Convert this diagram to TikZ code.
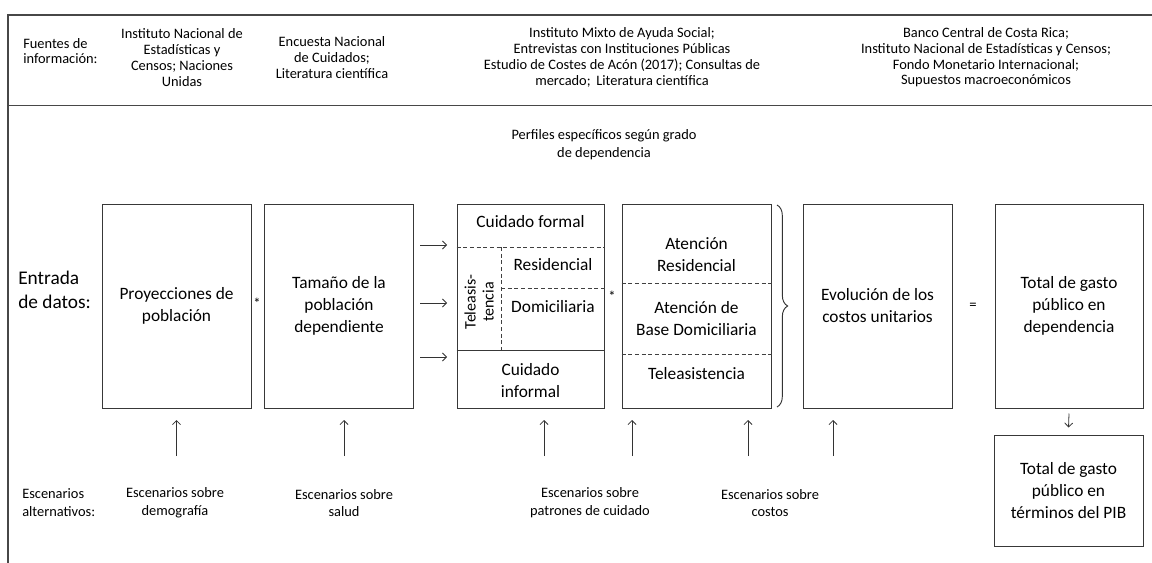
\documentclass[tikz,border=0pt]{standalone}
\usepackage{fontspec}
\setmainfont{Carlito}
\usetikzlibrary{arrows.meta,decorations.pathreplacing}

\begin{document}
\begin{tikzpicture}[x=0.75pt,y=-0.75pt,
  frameline/.style={draw=black!72, line width=1.1pt},
  box/.style={draw=black!78, line width=0.75pt, minimum width=111.75pt,
    minimum height=153pt, inner sep=0pt, align=center,
    font=\fontsize{13}{16.5}\selectfont},
  boxtext/.style={align=center, inner sep=0pt, font=\fontsize{13}{16.5}\selectfont},
  subtext/.style={align=center, inner sep=0pt, font=\fontsize{11}{13.4}\selectfont},
  hdr/.style={align=center, inner sep=0pt, font=\fontsize{10.8}{11.8}\selectfont},
  note/.style={align=center, inner sep=0pt, font=\fontsize{10.8}{13.4}\selectfont},
  sepline/.style={draw=black!75, line width=0.6pt, dash pattern=on 3pt off 2pt},
  solidsep/.style={draw=black!78, line width=0.75pt},
  arr/.style={draw=black!80, line width=0.6pt, -{Straight Barb[length=3pt,width=6pt]}},
  opsign/.style={inner sep=0pt, font=\fontsize{11}{13}\selectfont}
]
\useasboundingbox (0,0) rectangle (1152,563);

% frame of the table
\draw[frameline] (1152,15) -- (8,15) -- (8,563);
\draw[frameline] (8,105.5) -- (1152,105.5);

% sources row
\node[hdr, align=left, anchor=west] (fuentes) at (23,51) {Fuentes de\\información:};
\node[hdr] (f1) at (182,57.5) {Instituto Nacional de\\Estadísticas y\\Censos; Naciones\\Unidas};
\node[hdr] (f2) at (332,57.5) {Encuesta Nacional\\de Cuidados;\\Literatura científica};
\node[hdr] (f3) at (622,57.5) {Instituto Mixto de Ayuda Social;\\Entrevistas con Instituciones Públicas\\Estudio de Costes de Acón (2017); Consultas de\\mercado;\, Literatura científica};
\node[hdr] (f4) at (986,57.5) {Banco Central de Costa Rica;\\Instituto Nacional de Estadísticas y Censos;\\Fondo Monetario Internacional;\\Supuestos macroeconómicos};

\node[note] (perfiles) at (604,144.5) {Perfiles específicos según grado\\de dependencia};

% data inputs
\node[align=left, anchor=west, inner sep=0pt, font=\fontsize{14.5}{18}\selectfont]
  (entrada) at (18,290) {Entrada\\de datos:};

\node[box] (b1) at (176.5,306) {Proyecciones de\\población};
\node[opsign] (star1) at (257,303) {*};
\node[box] (b2) at (339,306) {Tamaño de la\\población\\dependiente};

% care types
\node[box, minimum width=110.25pt] (b3) at (530.5,306) {};
\draw[sepline] (b3.west |- 0,247) -- (b3.east |- 0,247);
\draw[solidsep] (b3.west |- 0,350) -- (b3.east |- 0,350);
\draw[sepline] (501,247) -- (501,350);
\draw[sepline] (501,288) -- (b3.east |- 0,288);
\node[boxtext] (formal) at (530.5,222) {Cuidado formal};
\node[boxtext] (resid) at (553,265) {Residencial};
\node[boxtext] (domic) at (553,307) {Domiciliaria};
\node[subtext, rotate=90, font=\fontsize{12}{13.5}\selectfont] (tele) at (479,302) {Teleasis-\\tencia};
\node[boxtext] (informal) at (530.5,381) {Cuidado\\informal};

\node[opsign] (star2) at (612,296) {*};

% services
\node[box] (b4) at (696.5,306) {};
\draw[sepline] (b4.west |- 0,283) -- (b4.east |- 0,283);
\draw[sepline] (b4.west |- 0,354) -- (b4.east |- 0,354);
\node[boxtext] (atres) at (696.5,255) {Atención\\Residencial};
\node[boxtext] (atdom) at (696.5,319) {Atención de\\Base Domiciliaria};
\node[boxtext] (atele) at (696.5,374) {Teleasistencia};

\draw[draw=black!80, line width=0.7pt, decorate, decoration={brace, amplitude=8pt}]
  (777,205) -- (777,407);

\node[box] (b5) at (877.5,306) {Evolución de los\\costos unitarios};
\node[opsign] (eq) at (973,306) {=};
\node[box, minimum width=111pt] (b6) at (1069,306) {Total de gasto\\público en\\dependencia};
\node[box, minimum width=111.75pt, minimum height=83.25pt] (b7) at (1068.5,490.5)
  {Total de gasto\\público en\\términos del PIB};

% arrows into the care types
\foreach \yy/\k in {245/1,303/2,357/3}{
  \coordinate (s\k) at (420,\yy);
  \coordinate (e\k) at (447,\yy);
  \draw[arr] (s\k) -- (e\k);
}
\draw[arr] ([yshift=-3.75pt]b6.south) -- ([yshift=5.25pt]b7.north);

% alternative scenarios
\node[note, align=left, anchor=west] (esc) at (22,503) {Escenarios\\alternativos:};
\node[note] (sc1) at (175,503) {Escenarios sobre\\demografía};
\node[note] (sc2) at (344,503) {Escenarios sobre\\salud};
\node[note] (sc3) at (590,503) {Escenarios sobre\\patrones de cuidado};
\node[note] (sc4) at (770,503) {Escenarios sobre\\costos};

\foreach \xx/\k in {176.5/1,344/2,544/3,632/4,748/5,833/6}{
  \coordinate (t\k) at (\xx,456);
  \coordinate (h\k) at (\xx,420);
  \draw[arr] (t\k) -- (h\k);
}
\end{tikzpicture}
\end{document}
